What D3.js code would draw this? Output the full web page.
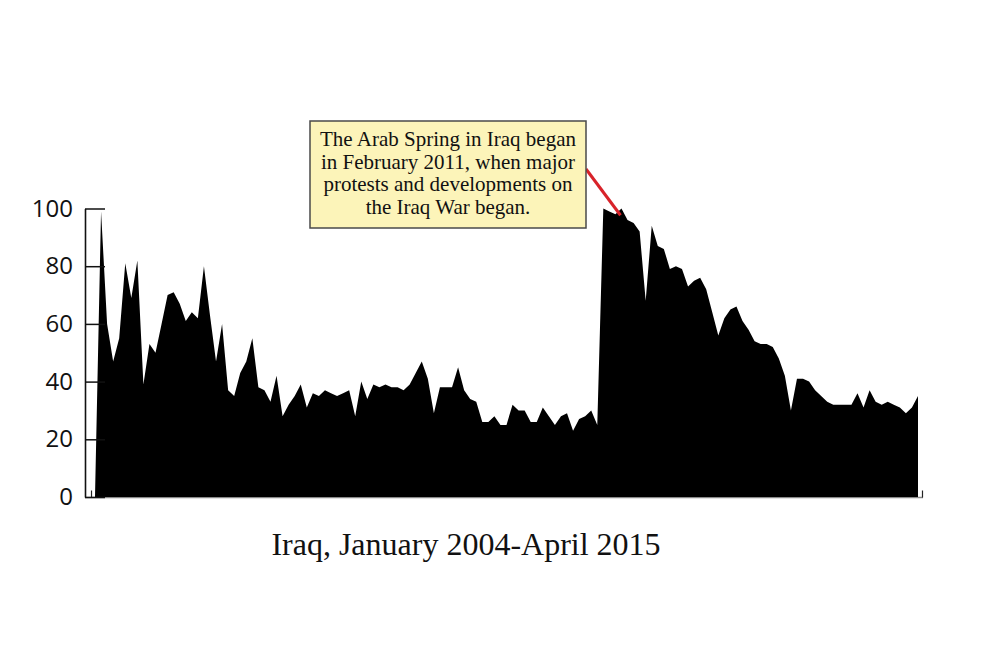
<!DOCTYPE html>
<html>
<head>
<meta charset="utf-8">
<script src="https://cdn.jsdelivr.net/npm/d3@7"></script>
<style>
  html, body { margin: 0; padding: 0; background: #fff; }
  svg { display: block; }
</style>
</head>
<body>
<svg id="chart" width="1000" height="667"></svg>
<script>
// ---- data (monthly search interest, Iraq; first point is the baseline start) ----
const values = [
  0, 99, 60, 47, 55, 81, 69, 82, 39, 53,
  50, 60, 70, 71, 67, 61, 64, 62, 80, 63,
  47, 60, 37, 35, 43, 47, 55, 38, 37, 33,
  42, 28, 32, 35, 39, 31, 36, 35, 37, 36,
  35, 36, 37, 28, 40, 34, 39, 38, 39, 38,
  38, 37, 39, 43, 47, 41, 29, 38, 38, 38,
  45, 37, 34, 33, 26, 26, 28, 25, 25, 32,
  30, 30, 26, 26, 31, 28, 25, 28, 29, 23,
  27, 28, 30, 25, 100, 99, 98, 100, 96, 95,
  92, 68, 94, 87, 86, 79, 80, 79, 73, 75,
  76, 72, 64, 56, 62, 65, 66, 61, 58, 54,
  53, 53, 52, 48, 42, 30, 41, 41, 40, 37,
  35, 33, 32, 32, 32, 32, 36, 31, 37, 33,
  32, 33, 32, 31, 29, 31, 35
];
const yTicks = [0, 20, 40, 60, 80, 100];
const title = "Iraq, January 2004-April 2015";
const noteLines = [
  "The Arab Spring in Iraq began",
  "in February 2011, when major",
  "protests and developments on",
  "the Iraq War began."
];
const noteIndex = 87;   // point the callout refers to
const noteValue = 98;

// ---- layout ----
const svg = d3.select("#chart");
const plot = { left: 95, right: 918, top: 208.5, bottom: 497 };
const axisX = 85;

const x = d3.scaleLinear().domain([0, values.length - 1]).range([plot.left, plot.right]);
const y = d3.scaleLinear().domain([0, 100]).range([plot.bottom, plot.top]);

// x axis (grey baseline with small end ticks)
const xAxisScale = d3.scaleLinear()
  .domain([0, values.length - 1])
  .range([plot.left, plot.right]);
const edgePad = 0.66;
const xAxisG = svg.append("g")
  .attr("transform", `translate(0,${plot.bottom + 0.5})`);
xAxisG.append("line")
  .attr("x1", axisX).attr("x2", xAxisScale(values.length - 1 + edgePad) + 1)
  .attr("stroke", "#8a8a8a").attr("stroke-width", 1.6);

// area
const area = d3.area()
  .x((d, i) => x(i))
  .y0(y(0))
  .y1(d => y(d))
  .curve(d3.curveLinear);

svg.append("path")
  .datum(values)
  .attr("d", area)
  .attr("fill", "#000");

// small end ticks on x axis
xAxisG.call(
  d3.axisBottom(xAxisScale)
    .tickValues([-edgePad, values.length - 1 + edgePad])
    .tickSize(-7)
    .tickFormat("")
).call(g => g.select(".domain").remove())
 .call(g => g.selectAll(".tick line").attr("stroke", "#222").attr("stroke-width", 1.2));

// y axis: ticks point inward
const yAxis = d3.axisLeft(y)
  .tickValues(yTicks)
  .tickSizeInner(-20)
  .tickSizeOuter(0)
  .tickPadding(12)
  .tickFormat(d3.format("d"));

svg.append("g")
  .attr("transform", `translate(${axisX},0)`)
  .call(yAxis)
  .call(g => g.select(".domain").attr("stroke", "#111").attr("stroke-width", 1.6))
  .call(g => g.selectAll(".tick line").attr("stroke", "#111").attr("stroke-width", 1.5))
  .call(g => g.selectAll(".tick text")
    .attr("font-family", "'Open Sans', 'Noto Sans', sans-serif")
    .attr("font-size", 24)
    .attr("fill", "#111"));

// title under the chart
svg.append("text")
  .attr("x", 466)
  .attr("y", 555)
  .attr("text-anchor", "middle")
  .attr("font-family", "'Liberation Serif', 'Times New Roman', serif")
  .attr("font-size", 32)
  .attr("fill", "#111")
  .text(title);

// callout line
const box = { x: 310, y: 121, w: 276, h: 107 };
svg.append("line")
  .attr("x1", box.x + box.w)
  .attr("y1", 169)
  .attr("x2", x(noteIndex) - 1)
  .attr("y2", y(noteValue) + 1)
  .attr("stroke", "#d8232a")
  .attr("stroke-width", 3);

// callout box
svg.append("rect")
  .attr("x", box.x).attr("y", box.y)
  .attr("width", box.w).attr("height", box.h)
  .attr("fill", "#fcf4b9")
  .attr("stroke", "#4a4a4a")
  .attr("stroke-width", 1.5);

svg.append("g")
  .selectAll("text")
  .data(noteLines)
  .join("text")
  .attr("x", box.x + box.w / 2)
  .attr("y", (d, i) => 146 + i * 22.5)
  .attr("text-anchor", "middle")
  .attr("font-family", "'Liberation Serif', 'Times New Roman', serif")
  .attr("font-size", 21)
  .attr("fill", "#111")
  .text(d => d);
</script>
</body>
</html>
